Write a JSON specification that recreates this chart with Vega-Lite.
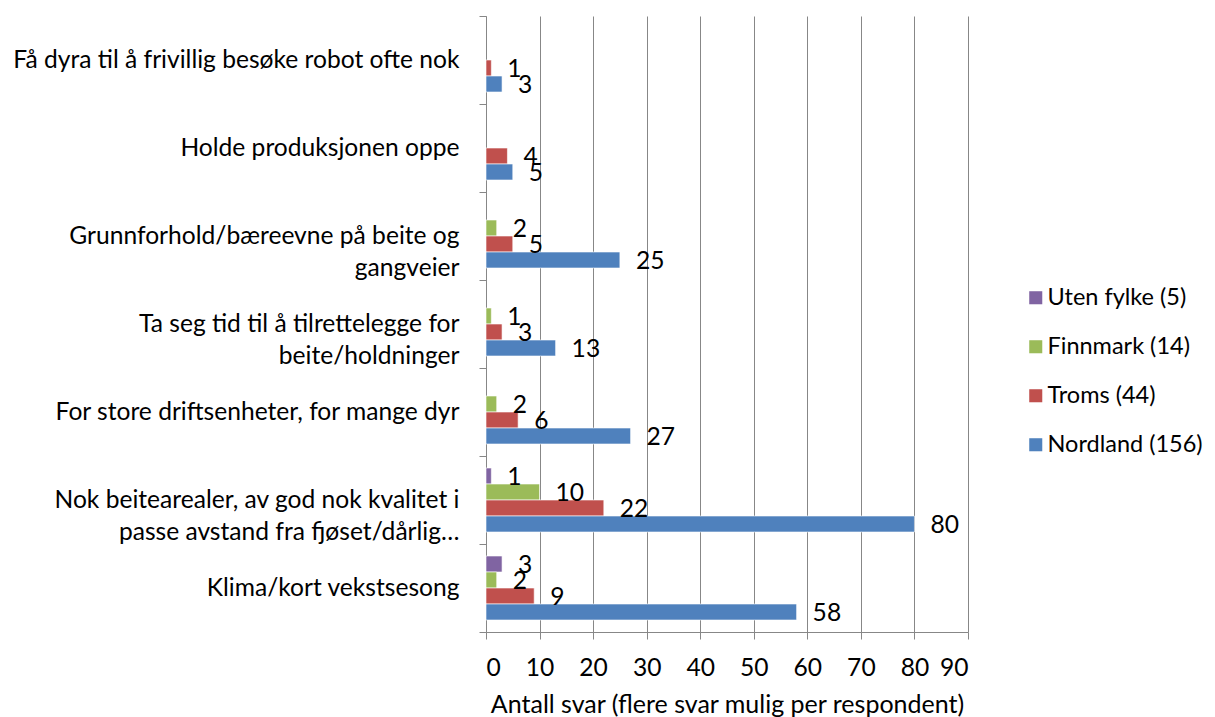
{
  "$schema": "https://vega.github.io/schema/vega-lite/v6.json",
  "width": 482,
  "height": 616,
  "autosize": {"type": "none"},
  "padding": {"left": 486, "top": 16, "right": 247, "bottom": 85},
  "background": "white",
  "config": {
    "font": "Lato",
    "view": {"stroke": null}
  },
  "data": {
    "values": [
      {"kategori": "Få dyra til å frivillig besøke robot ofte nok", "fylke": "Troms (44)", "antall": 1},
      {"kategori": "Få dyra til å frivillig besøke robot ofte nok", "fylke": "Nordland (156)", "antall": 3},
      {"kategori": "Holde produksjonen oppe", "fylke": "Troms (44)", "antall": 4},
      {"kategori": "Holde produksjonen oppe", "fylke": "Nordland (156)", "antall": 5},
      {"kategori": "Grunnforhold/bæreevne på beite og|gangveier", "fylke": "Finnmark (14)", "antall": 2},
      {"kategori": "Grunnforhold/bæreevne på beite og|gangveier", "fylke": "Troms (44)", "antall": 5},
      {"kategori": "Grunnforhold/bæreevne på beite og|gangveier", "fylke": "Nordland (156)", "antall": 25},
      {"kategori": "Ta seg tid til å tilrettelegge for|beite/holdninger", "fylke": "Finnmark (14)", "antall": 1},
      {"kategori": "Ta seg tid til å tilrettelegge for|beite/holdninger", "fylke": "Troms (44)", "antall": 3},
      {"kategori": "Ta seg tid til å tilrettelegge for|beite/holdninger", "fylke": "Nordland (156)", "antall": 13},
      {"kategori": "For store driftsenheter, for mange dyr", "fylke": "Finnmark (14)", "antall": 2},
      {"kategori": "For store driftsenheter, for mange dyr", "fylke": "Troms (44)", "antall": 6},
      {"kategori": "For store driftsenheter, for mange dyr", "fylke": "Nordland (156)", "antall": 27},
      {"kategori": "Nok beitearealer, av god nok kvalitet i|passe avstand fra fjøset/dårlig…", "fylke": "Uten fylke (5)", "antall": 1},
      {"kategori": "Nok beitearealer, av god nok kvalitet i|passe avstand fra fjøset/dårlig…", "fylke": "Finnmark (14)", "antall": 10},
      {"kategori": "Nok beitearealer, av god nok kvalitet i|passe avstand fra fjøset/dårlig…", "fylke": "Troms (44)", "antall": 22},
      {"kategori": "Nok beitearealer, av god nok kvalitet i|passe avstand fra fjøset/dårlig…", "fylke": "Nordland (156)", "antall": 80},
      {"kategori": "Klima/kort vekstsesong", "fylke": "Uten fylke (5)", "antall": 3},
      {"kategori": "Klima/kort vekstsesong", "fylke": "Finnmark (14)", "antall": 2},
      {"kategori": "Klima/kort vekstsesong", "fylke": "Troms (44)", "antall": 9},
      {"kategori": "Klima/kort vekstsesong", "fylke": "Nordland (156)", "antall": 58}
    ]
  },
  "encoding": {
    "y": {
      "field": "kategori",
      "type": "nominal",
      "sort": [
        "Få dyra til å frivillig besøke robot ofte nok",
        "Holde produksjonen oppe",
        "Grunnforhold/bæreevne på beite og|gangveier",
        "Ta seg tid til å tilrettelegge for|beite/holdninger",
        "For store driftsenheter, for mange dyr",
        "Nok beitearealer, av god nok kvalitet i|passe avstand fra fjøset/dårlig…",
        "Klima/kort vekstsesong"
      ],
      "scale": {"paddingInner": 0, "paddingOuter": 0},
      "axis": {
        "title": null,
        "tickBand": "extent",
        "tickSize": 7,
        "tickColor": "#878787",
        "domainColor": "#878787",
        "labelFontSize": 24.6,
        "labelColor": "#000000",
        "labelLimit": 600,
        "labelLineHeight": 32,
        "labelPadding": 20,
        "labelExpr": "split(datum.label, '|')",
        "grid": false
      }
    },
    "yOffset": {
      "field": "fylke",
      "type": "nominal",
      "scale": {
        "domain": ["Uten fylke (5)", "Finnmark (14)", "Troms (44)", "Nordland (156)"],
        "paddingInner": 0,
        "paddingOuter": 0.75
      }
    },
    "x": {
      "field": "antall",
      "type": "quantitative",
      "scale": {"domain": [0, 90], "nice": false},
      "axis": {
        "values": [0, 10, 20, 30, 40, 50, 60, 70, 80, 90],
        "grid": true,
        "gridColor": "#878787",
        "gridWidth": 1,
        "tickSize": 7,
        "tickColor": "#878787",
        "domainColor": "#878787",
        "labelFontSize": 24.6,
        "labelColor": "#000000",
        "labelPadding": 17,
        "title": "Antall svar (flere svar mulig per respondent)",
        "titleFontSize": 25,
        "titleFontWeight": "normal",
        "titleColor": "#000000",
        "titlePadding": 13
      }
    }
  },
  "layer": [
    {
      "mark": {"type": "bar", "stroke": "#ffffff", "strokeWidth": 0.6},
      "encoding": {
        "color": {
          "field": "fylke",
          "type": "nominal",
          "scale": {
            "domain": ["Uten fylke (5)", "Finnmark (14)", "Troms (44)", "Nordland (156)"],
            "range": ["#8064A2", "#9BBB59", "#C0504D", "#4F81BD"]
          },
          "legend": {
            "title": null,
            "orient": "none",
            "legendX": 538,
            "legendY": 270,
            "symbolType": "square",
            "symbolSize": 170,
            "symbolStrokeWidth": 0,
            "labelFontSize": 23.5,
            "labelColor": "#000000",
            "labelOffset": 0,
            "rowPadding": 24,
            "labelLimit": 300
          }
        }
      }
    },
    {
      "mark": {"type": "text", "align": "left", "baseline": "middle", "dx": 16, "dy": 2, "fontSize": 24.6, "color": "#000000"},
      "encoding": {
        "text": {"field": "antall", "type": "quantitative"}
      }
    }
  ]
}
